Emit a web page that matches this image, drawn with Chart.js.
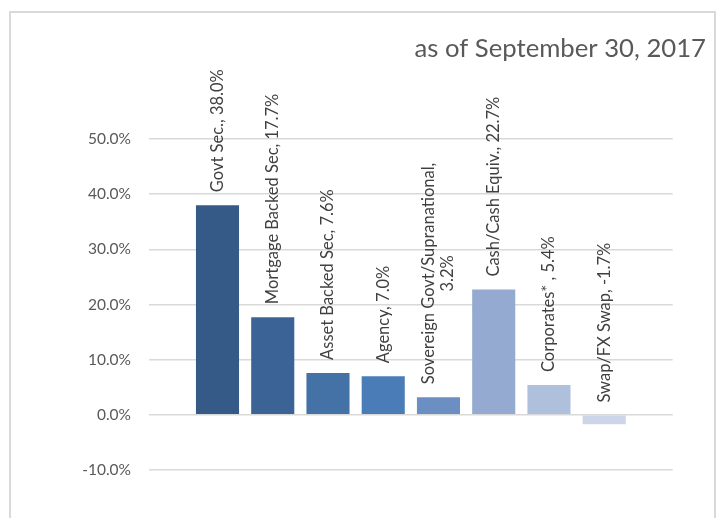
<!DOCTYPE html>
<html>
<head>
<meta charset="utf-8">
<script src="https://cdn.jsdelivr.net/npm/chart.js@4.4.0/dist/chart.umd.min.js"></script>
<style>
  html, body { margin: 0; padding: 0; background: #fff; }
  #wrap { position: relative; width: 719px; height: 518px; overflow: hidden; }
  #frame { position: absolute; left: 9px; top: 11px; width: 703px; height: 520px;
           border: 2px solid #d9d9d9; border-bottom: none; }
  #chart { position: absolute; left: 0; top: 0; }
</style>
</head>
<body>
<div id="wrap">
  <div id="frame"></div>
  <canvas id="chart" width="719" height="518"></canvas>
</div>
<script>
    // Sector allocation, percent of portfolio
    const categories = ['Govt Sec.', 'Mortgage Backed Sec', 'Asset Backed Sec', 'Agency',
        'Sovereign Govt/Supranational', 'Cash/Cash Equiv.', 'Corporates* ', 'Swap/FX Swap'];
    const shares = [38.0, 17.7, 7.6, 7.0, 3.2, 22.7, 5.4, -1.7];
    const barColors = ['#355a87', '#3c6396', '#4472a7', '#4a7cb8',
        '#6b8fc3', '#95aad1', '#afc0dc', '#cdd6e8'];
    const yTicks = [-10, 0, 10, 20, 30, 40, 50];
    const titleText = 'as of September 30, 2017';

    const labelFont = '16.5px Lato';
    const labelColor = '#404040';
    const axisColor = '#595959';

    // break a label into two lines when it gets too long
    function wrapLabel(ctx, text, maxWidth) {
        if (ctx.measureText(text).width <= maxWidth) return [text];
        const cut = text.lastIndexOf(' ');
        return [text.slice(0, cut), text.slice(cut + 1)];
    }

    const titlePlugin = {
        id: 'asOfTitle',
        afterDraw(chart) {
            const ctx = chart.ctx;
            ctx.save();
            ctx.font = '25.7px Lato';
            ctx.fillStyle = axisColor;
            ctx.textAlign = 'right';
            ctx.textBaseline = 'alphabetic';
            ctx.fillText(titleText, 706, 57);
            ctx.restore();
        }
    };

    // vertical "name, value" labels sitting above each bar
    const barLabels = {
        id: 'barLabels',
        afterDatasetsDraw(chart) {
            const ctx = chart.ctx;
            const meta = chart.getDatasetMeta(0);
            ctx.save();
            ctx.font = labelFont;
            ctx.fillStyle = labelColor;
            meta.data.forEach((bar, i) => {
                const text = `${categories[i]}, ${shares[i].toFixed(1)}%`;
                const lines = wrapLabel(ctx, text, 240);
                const w = Math.max(...lines.map(l => ctx.measureText(l).width));
                const top = Math.min(bar.y, bar.base);
                ctx.save();
                ctx.translate(bar.x, top - 13);
                ctx.rotate(-Math.PI / 2);
                ctx.textAlign = 'center';
                ctx.textBaseline = 'middle';
                lines.forEach((l, k) => {
                    ctx.fillText(l, w / 2, (k - (lines.length - 1) / 2) * 19);
                });
                ctx.restore();
            });
            ctx.restore();
        }
    };

    new Chart(document.getElementById('chart'), {
        type: 'bar',
        data: {
            datasets: [{
                data: categories.map((c, i) => ({ x: i, y: shares[i] })),
                backgroundColor: barColors,
                borderWidth: 0,
                categoryPercentage: 1,
                barPercentage: 0.78
            }]
        },
        options: {
            responsive: false,
            animation: false,
            layout: { padding: { top: 139, bottom: 48, right: 46.3, left: 0 } },
            plugins: {
                legend: { display: false },
                tooltip: { enabled: false }
            },
            scales: {
                x: {
                    type: 'linear',
                    min: -1.24,
                    max: 8.24,
                    offset: false,
                    display: false
                },
                y: {
                    min: -10,
                    max: 50,
                    afterFit(scale) { scale.width = 149; },
                    afterBuildTicks(scale) { scale.ticks = yTicks.map(v => ({ value: v })); },
                    border: { display: false },
                    grid: { color: '#d9d9d9', lineWidth: 1.5, drawTicks: false },
                    ticks: {
                        padding: 18,
                        color: axisColor,
                        font: { family: 'Lato', size: 15.5 },
                        callback: v => v.toFixed(1) + '%'
                    }
                }
            }
        },
        plugins: [barLabels, titlePlugin]
    });
</script>
</body>
</html>
